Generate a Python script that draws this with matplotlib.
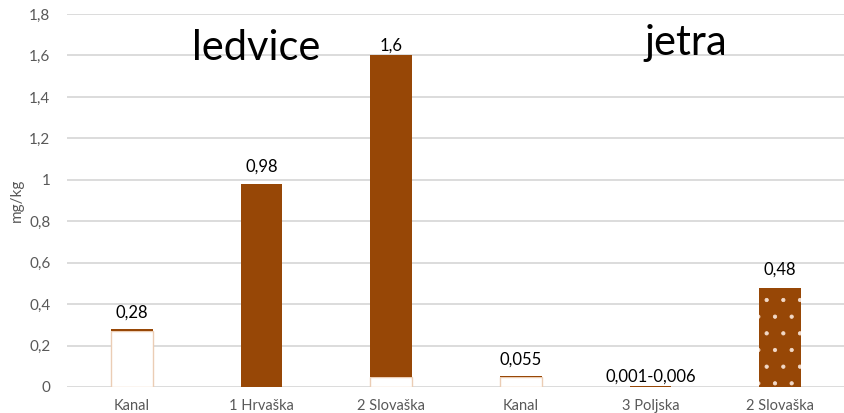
import matplotlib.pyplot as plt
import numpy as np

# values (mg/kg)
categories = ['Kanal', '1 Hrvaška', '2 Slovaška', 'Kanal', '3 Poljska', '2 Slovaška']
low_part = [0.27, 0.0, 0.05, 0.05, 0.001, 0.0]      # white lower segment
top_value = [0.28, 0.98, 1.6, 0.055, 0.006, 0.48]   # top of each stacked bar
value_labels = ['0,28', '0,98', '1,6', '0,055', '0,001-0,006', '0,48']
dotted = [False, False, False, False, False, True]
yticks = [0, 0.2, 0.4, 0.6, 0.8, 1.0, 1.2, 1.4, 1.6, 1.8]
ytick_labels = ['0', '0,2', '0,4', '0,6', '0,8', '1', '1,2', '1,4', '1,6', '1,8']

brown = '#974706'
tan_edge = '#EBCDB5'
grey_text = '#595959'
grid_col = '#D9D9D9'

plt.rcParams['font.family'] = ['Lato', 'DejaVu Sans']
plt.rcParams['hatch.linewidth'] = 0.6

fig = plt.figure(figsize=(8.45, 4.13), dpi=100)
ax = fig.add_axes([0.0793, 0.063, 0.9207, 0.903])

x = np.arange(len(categories))
upper = [t - l for t, l in zip(top_value, low_part)]

ax.bar(x, low_part, width=0.32, color='white', edgecolor=tan_edge, linewidth=1, zorder=2)
for i in range(len(x)):
    if dotted[i]:
        ax.bar(x[i], upper[i], bottom=low_part[i], width=0.32, color=brown,
               edgecolor='#F2D9C8', linewidth=0, hatch='.', zorder=3)
    else:
        ax.bar(x[i], upper[i], bottom=low_part[i], width=0.32, color=brown,
               linewidth=0, zorder=3)

# value labels above bars
offsets = [6, 7, 1, 6, 1, 7]
for i, lab in enumerate(value_labels):
    ax.annotate(lab, (x[i], top_value[i]), xytext=(0, offsets[i]),
                textcoords='offset points', ha='center', va='bottom',
                fontsize=12, color='black')

ax.set_xlim(-0.5, len(categories) - 0.5)
ax.set_ylim(0, 1.8)
ax.set_yticks(yticks)
ax.set_yticklabels(ytick_labels, fontsize=11, color=grey_text)
ax.set_xticks(x)
ax.set_xticklabels(categories, fontsize=10.5, color=grey_text)
ax.tick_params(length=0, pad=9)
ax.tick_params(axis='y', pad=12)
ax.grid(axis='y', color=grid_col, linewidth=1.3, zorder=0)
ax.set_axisbelow(True)
for s in ax.spines.values():
    s.set_visible(False)

ax.set_ylabel('mg/kg', fontsize=11, color=grey_text, labelpad=4)

# organ headings
ax.text(0.96, 1.578, 'ledvice', fontsize=30, ha='center', va='baseline', color='black')
ax.text(4.27, 1.60, 'jetra', fontsize=30, ha='center', va='baseline', color='black')

fig.savefig('out.png', dpi=100)
